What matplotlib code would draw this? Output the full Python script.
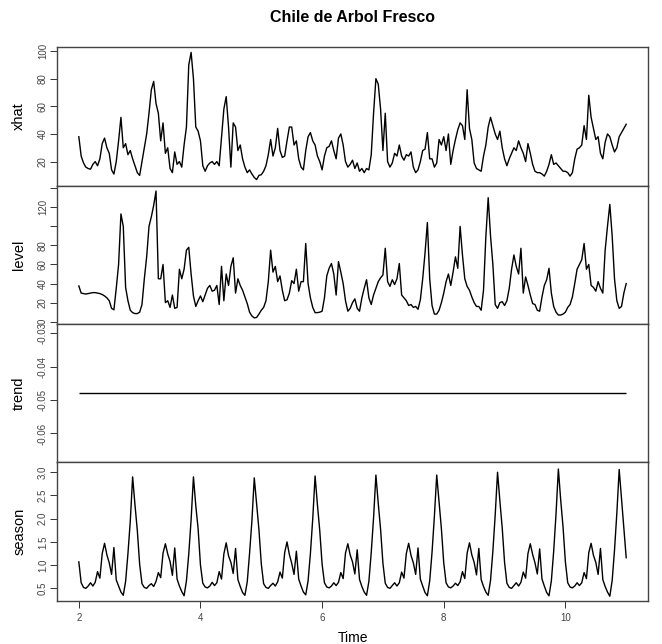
import numpy as np
import matplotlib
matplotlib.use('Agg')
import matplotlib.pyplot as plt

# fonts: Arial-like, close to R's Helvetica
plt.rcParams['font.family'] = ['Liberation Sans', 'DejaVu Sans']

# time base (year 2 .. 11, 26 obs per year)
start = 2
freq = 26

# fitted values, one row per year
xhat = [
    38, 24, 19, 16, 15, 14.5, 18, 20, 17, 22, 33, 37, 30, 26, 14, 11, 20, 35, 52, 30, 33, 25, 28, 22, 17, 12,
    10, 20, 30, 40, 55, 72, 78, 62, 55, 35, 48, 26, 30, 15, 12, 27, 18, 20, 16, 32, 45, 90, 99, 80, 45, 42,
    35, 17, 13, 17, 19, 20, 18, 20, 17, 38, 58, 67, 45, 16, 48, 45, 28, 32, 22, 16, 12, 14, 11, 8.5, 7, 10,
    10.5, 13, 17, 25, 36, 24, 30, 44, 28, 23, 24, 35, 45, 45, 32, 35, 22, 16, 14, 28, 38, 41, 35, 32, 24, 20,
    14, 24, 30, 31, 35, 28, 22, 37, 40, 32, 20, 16, 18, 21, 15, 19, 13, 15, 12, 15, 14, 25, 55, 80, 76, 58,
    28, 55, 20, 16, 19, 26, 24, 32, 24, 21, 25, 24, 27, 16, 12, 14, 20, 28, 29, 41, 22, 22, 16, 19, 36, 32,
    38, 28, 40, 18, 28, 36, 43, 48, 46, 36, 72, 44, 36, 19, 15, 14, 13, 24, 32, 45, 52, 46, 40, 36, 42, 30,
    22, 17, 22, 26, 30, 28, 35, 30, 26, 20, 33, 26, 18, 13, 12, 12, 11, 9.5, 13, 18, 25, 18, 19, 17, 15, 13,
    13, 12, 9.5, 12, 22, 29, 30, 32, 46, 36, 68, 52, 44, 36, 38, 26, 22, 34, 40, 38, 32, 27, 30, 38, 41, 44, 47,
]

level = [
    37.5, 30, 29.5, 29, 29.5, 30, 30.5, 30.5, 30, 29.5, 28.5, 27, 25, 22, 14, 12.5, 35, 60, 113, 100, 36, 22, 12, 9.5, 8.5, 8.5,
    10, 18, 45, 68, 100, 110, 122, 137, 45, 45, 60, 20, 22, 15, 28, 14, 15, 55, 45, 55, 75, 78, 50, 27, 16, 22,
    27, 21, 28, 35, 38, 32, 33, 38, 18, 58, 22, 50, 38, 58, 67, 30, 45, 38, 33, 26, 19, 10, 6, 4, 4.5, 8,
    12, 15, 22, 42, 75, 52, 58, 42, 48, 33, 22, 23, 30, 43, 40, 55, 32, 42, 42, 82, 40, 25, 15, 9.5, 9.5, 10,
    11, 25, 48, 56, 61, 50, 28, 63, 52, 40, 22, 11, 14, 20, 24, 14, 11, 25, 35, 44, 25, 18, 28, 35, 42, 46,
    49, 77, 42, 37, 44, 39, 45, 61, 28, 25, 22, 17, 18, 15, 16, 13, 23, 45, 72, 104, 45, 17, 8, 8, 12, 20,
    30, 42, 50, 38, 52, 68, 56, 100, 70, 45, 37, 33, 26, 20, 16, 16, 12, 33, 89, 130, 90, 60, 18, 14, 20, 21,
    17, 22, 35, 55, 70, 58, 50, 77, 30, 47, 38, 28, 19, 18, 12, 11, 26, 38, 44, 56, 30, 16, 10, 7, 7, 8,
    10, 15, 18, 26, 40, 55, 60, 65, 82, 55, 60, 38, 36, 32, 42, 35, 30, 75, 100, 123, 90, 45, 22, 14, 16, 30, 40,
]

trend_value = -0.048

season = [
    1.07, 0.62, 0.52, 0.50, 0.55, 0.62, 0.55, 0.63, 0.86, 0.72, 1.25, 1.47, 1.22, 1.05, 0.80, 1.38, 0.68, 0.55, 0.42, 0.35, 0.65, 1.25, 1.95, 2.90, 2.30, 1.75,
    1.02, 0.60, 0.52, 0.50, 0.56, 0.60, 0.54, 0.65, 0.84, 0.73, 1.26, 1.46, 1.24, 1.08, 0.78, 1.37, 0.70, 0.55, 0.43, 0.34, 0.66, 1.24, 1.98, 2.90, 2.28, 1.78,
    1.00, 0.61, 0.53, 0.51, 0.55, 0.63, 0.56, 0.62, 0.86, 0.70, 1.24, 1.48, 1.20, 1.06, 0.82, 1.36, 0.69, 0.54, 0.41, 0.35, 0.64, 1.26, 1.96, 2.88, 2.32, 1.76,
    1.03, 0.60, 0.52, 0.50, 0.56, 0.61, 0.55, 0.64, 0.85, 0.72, 1.27, 1.50, 1.23, 1.04, 0.80, 1.30, 0.70, 0.55, 0.42, 0.36, 0.66, 1.25, 2.00, 2.92, 2.30, 1.74,
    1.02, 0.62, 0.53, 0.51, 0.55, 0.62, 0.56, 0.63, 0.84, 0.71, 1.26, 1.46, 1.22, 1.07, 0.81, 1.33, 0.69, 0.54, 0.42, 0.35, 0.65, 1.27, 2.02, 2.94, 2.33, 1.77,
    1.04, 0.61, 0.52, 0.50, 0.56, 0.62, 0.55, 0.62, 0.85, 0.72, 1.25, 1.47, 1.21, 1.05, 0.80, 1.37, 0.70, 0.55, 0.41, 0.34, 0.66, 1.28, 2.05, 2.94, 2.35, 1.78,
    1.05, 0.62, 0.53, 0.51, 0.55, 0.61, 0.56, 0.64, 0.86, 0.71, 1.26, 1.48, 1.22, 1.06, 0.79, 1.36, 0.69, 0.54, 0.42, 0.35, 0.67, 1.30, 2.08, 3.00, 2.38, 1.80,
    1.06, 0.61, 0.52, 0.50, 0.56, 0.62, 0.55, 0.63, 0.85, 0.72, 1.25, 1.46, 1.23, 1.05, 0.81, 1.35, 0.70, 0.55, 0.41, 0.34, 0.66, 1.30, 2.10, 3.07, 2.40, 1.82,
    1.07, 0.62, 0.53, 0.51, 0.55, 0.62, 0.56, 0.62, 0.84, 0.71, 1.27, 1.47, 1.21, 1.06, 0.80, 1.36, 0.69, 0.54, 0.42, 0.33, 0.67, 1.32, 2.12, 3.06, 2.42, 1.80,
    1.16,
]

t = start + np.arange(len(xhat)) / freq

fig, axes = plt.subplots(4, 1, figsize=(6.62, 6.44), dpi=100, sharex=True)
fig.subplots_adjust(left=0.086, right=0.979, top=0.927, bottom=0.0668, hspace=0)

lw = 1.0
axes[0].plot(t, xhat, color='black', linewidth=lw)
axes[1].plot(t, level, color='black', linewidth=lw)
axes[2].hlines(trend_value, t[0], t[-1], color='black', linewidth=lw)
axes[3].plot(t, season, color='black', linewidth=lw)

# y ranges / ticks like R's plot.ts
axes[0].set_ylim(2.7, 102.9)
axes[0].set_yticks([20, 40, 60, 80, 100])
axes[0].set_yticklabels(['20', '40', '60', '80', '100'])

axes[1].set_ylim(-2.4, 142.8)
axes[1].set_yticks([0, 20, 40, 60, 80, 100, 120, 140])
axes[1].set_yticklabels(['0', '20', '40', '60', '80', '', '120', ''])

axes[2].set_ylim(-0.0687, -0.0272)
axes[2].set_yticks([-0.03, -0.04, -0.05, -0.06])
axes[2].set_yticklabels(['-0.03', '-0.04', '-0.05', '-0.06'])

axes[3].set_ylim(0.228, 3.21)
axes[3].set_yticks([0.5, 1.0, 1.5, 2.0, 2.5, 3.0])
axes[3].set_yticklabels(['0.5', '1.0', '1.5', '2.0', '2.5', '3.0'])

names = ['xhat', 'level', 'trend', 'season']
for ax, name in zip(axes, names):
    ax.set_xlim(1.64, 11.36)
    ax.set_ylabel(name, fontsize=10.5)
    ax.yaxis.set_label_coords(-0.052, 0.5)
    ax.tick_params(axis='y', labelrotation=90, labelsize=7, length=5, width=0.7,
                   pad=1.5, colors='#333333', labelcolor='#444444')
    ax.tick_params(axis='x', bottom=False, labelbottom=False)
    for s in ax.spines.values():
        s.set_linewidth(1.0)
        s.set_color('#444444')
    for lab in ax.get_yticklabels():
        lab.set_va('center')

axes[3].set_xticks([2, 4, 6, 8, 10])
axes[3].tick_params(axis='x', bottom=True, labelbottom=True, labelsize=7, length=5,
                    width=0.7, pad=4, colors='#333333', labelcolor='#444444')
axes[3].set_xlabel('Time', fontsize=10)
axes[3].xaxis.set_label_coords(0.5, -0.215)

fig.text(0.532, 1 - 18 / 644, 'Chile de Arbol Fresco', ha='center', va='center',
         fontsize=11.5, fontweight='bold')

fig.savefig('out.png', dpi=100)
